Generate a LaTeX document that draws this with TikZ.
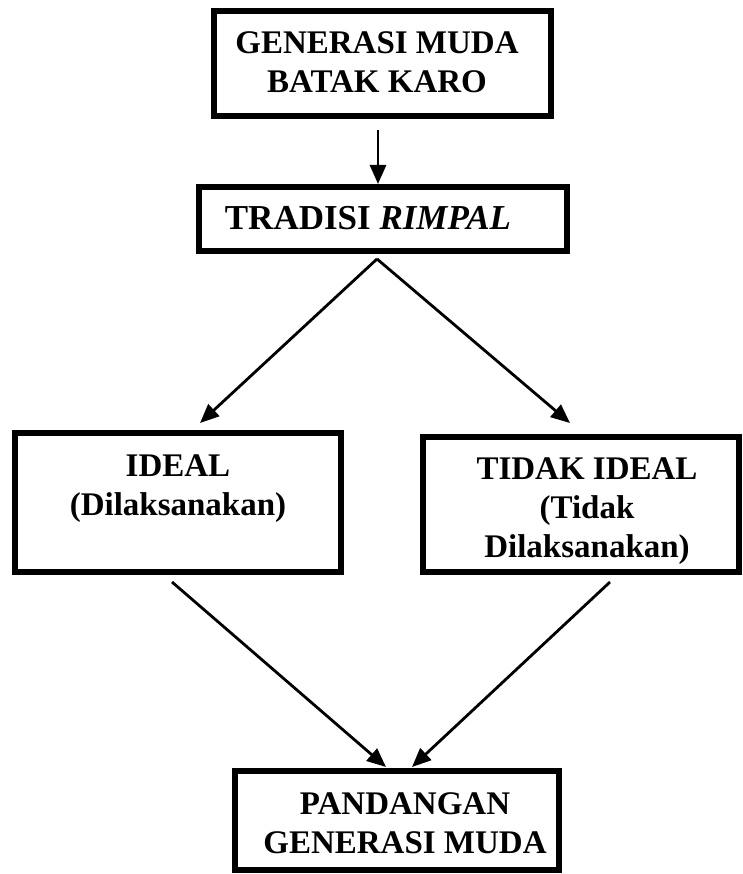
\documentclass[tikz,border=0pt]{standalone}
\usepackage{fontspec}
\setmainfont{Liberation Serif}
\usetikzlibrary{arrows.meta}
\begin{document}
\begin{tikzpicture}[x=1pt,y=1pt,
  box/.style={draw=black,line width=6pt,rectangle,inner sep=0pt},
  txt/.style={font=\fontsize{33}{39}\selectfont\bfseries,align=center,inner sep=0pt},
  arr/.style={line width=2.8pt,-{Triangle[length=19pt,width=16pt]}}]
\useasboundingbox (0,0) rectangle (743,-874);
\fill[white] (0,0) rectangle (743,-874);
% boxes
\node[box,minimum width=337pt,minimum height=105pt] (b1) at (382.5,-63.5) {};
\node[box,minimum width=368pt,minimum height=64pt] (b2) at (383,-219) {};
\node[box,minimum width=326pt,minimum height=139pt] (b3) at (178,-502.5) {};
\node[box,minimum width=316pt,minimum height=135pt] (b4) at (581,-504.5) {};
\node[box,minimum width=324pt,minimum height=99pt] (b5) at (397,-820.5) {};
% texts (anchor=base is the last line's baseline)
\node[txt,anchor=base] (t1) at (377,-93) {GENERASI MUDA\\BATAK KARO};
\node[txt,anchor=base,font=\fontsize{35}{40}\selectfont\bfseries] (t2) at (368,-230) {TRADISI \textit{RIMPAL}};
\node[txt,anchor=base] (t3) at (178,-515) {IDEAL\\(Dilaksanakan)};
\node[txt,anchor=base] (t4) at (587,-557) {TIDAK IDEAL\\(Tidak\\Dilaksanakan)};
\node[txt,anchor=base] (t5) at (405,-853) {PANDANGAN\\GENERASI MUDA};
% connector ends
\coordinate (s1) at (378,-130);
\coordinate (e1) at (378,-184);
\coordinate (apex) at (377,-259);
\coordinate (e2) at (200,-423);
\coordinate (e3) at (570,-423);
\coordinate (s4) at (172,-582);
\coordinate (e4) at (386,-767);
\coordinate (s5) at (610,-582);
\coordinate (e5) at (412,-767);
\draw[arr] (s1) -- (e1);
\draw[arr] (apex) -- (e2);
\draw[arr] (apex) -- (e3);
\draw[arr] (s4) -- (e4);
\draw[arr] (s5) -- (e5);
\end{tikzpicture}
\end{document}
